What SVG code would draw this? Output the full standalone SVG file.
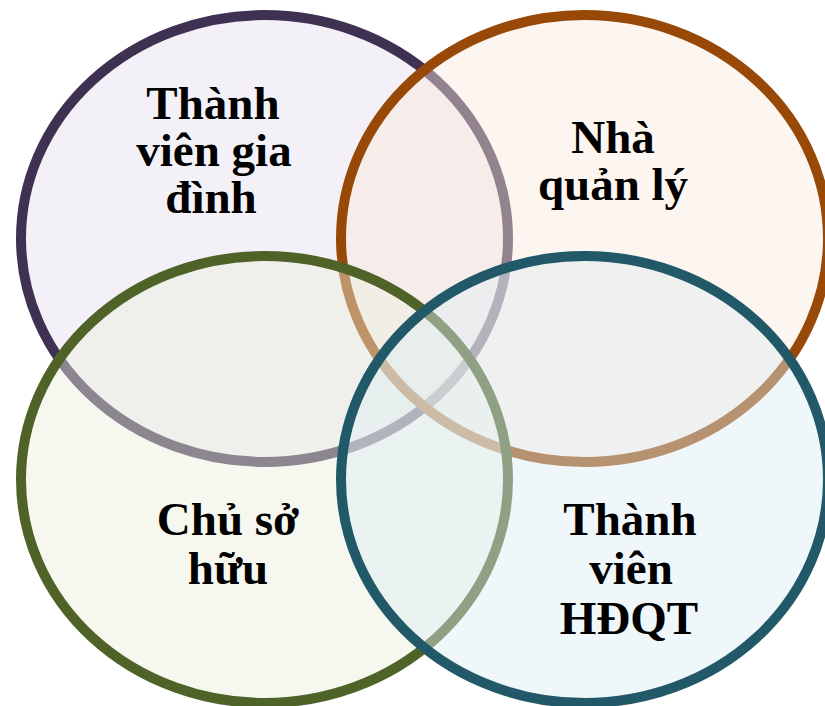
<svg xmlns="http://www.w3.org/2000/svg" width="825" height="706" viewBox="0 0 825 706">
<style>
.c{stroke-width:10;fill-opacity:0.45}
.t{font-family:"Liberation Serif","Times New Roman",serif;font-weight:bold;font-size:47px;fill:#000;text-anchor:middle}
</style>
<rect width="825" height="706" fill="#ffffff"/>
<g id="node-family">
<ellipse class="c" cx="264.5" cy="238.5" rx="243.5" ry="223.5" fill="#e4e0ed" stroke="#3f3151"/>
</g>
<g id="node-manager">
<ellipse class="c" cx="584.5" cy="238.5" rx="243.5" ry="223.5" fill="#fbe8dc" stroke="#984807"/>
</g>
<g id="node-owner">
<ellipse class="c" cx="264.5" cy="479.5" rx="243.5" ry="223.5" fill="#ebf0de" stroke="#4f6228"/>
</g>
<g id="node-board">
<ellipse class="c" cx="584.5" cy="479.5" rx="243.5" ry="223.5" fill="#deedf4" stroke="#215968"/>
</g>
<g id="labels">
<text class="t" x="213" y="119">Thành</text>
<text class="t" x="214" y="166">viên gia</text>
<text class="t" x="211" y="213">đình</text>
<text class="t" x="613" y="153">Nhà</text>
<text class="t" x="613" y="200">quản lý</text>
<text class="t" x="228" y="535">Chủ sở</text>
<text class="t" x="228" y="584">hữu</text>
<text class="t" x="630" y="535">Thành</text>
<text class="t" x="631" y="584">viên</text>
<text class="t" x="629" y="634">HĐQT</text>
</g>
<g id="connectors"></g>
</svg>
